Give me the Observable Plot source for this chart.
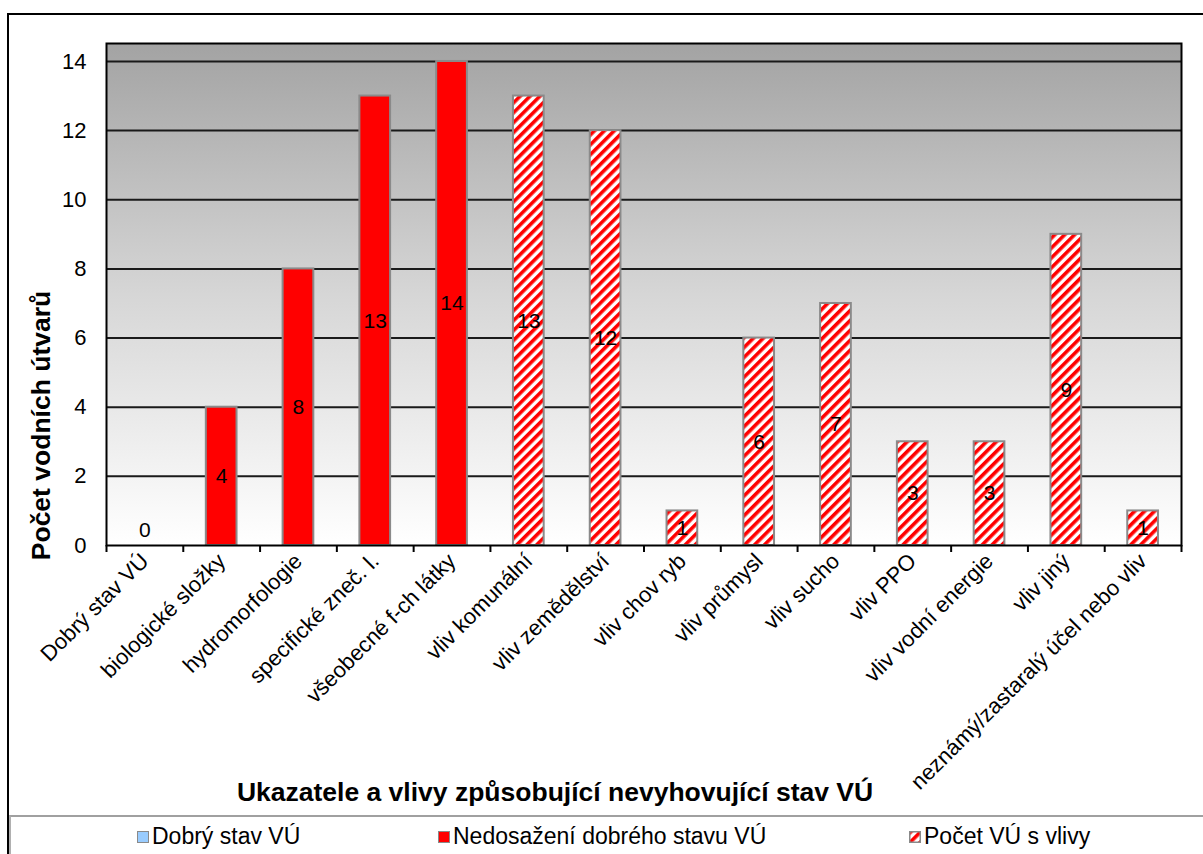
<!DOCTYPE html>
<html>
<head>
<meta charset="utf-8">
<script src="https://cdn.jsdelivr.net/npm/d3@7"></script>
<script src="https://cdn.jsdelivr.net/npm/@observablehq/plot@0.6"></script>
<style>
  html, body { margin: 0; padding: 0; background: #fff; overflow: hidden; }
  body { width: 1203px; height: 854px; position: relative; font-family: "Liberation Sans", Arial, sans-serif; }
  #frame { position: absolute; left: 7px; top: 13px; width: 1300px; height: 1000px; border: 2px solid #000; box-sizing: border-box; pointer-events: none; }
  #chart { position: absolute; left: 0; top: 0; }
  #legend { position: absolute; left: 9px; top: 815px; width: 1300px; height: 60px; border-top: 2px solid #a0a0a0; border-left: 2px solid #b0b0b0; box-sizing: border-box; }
  .item { position: absolute; top: 6px; font-size: 23px; color: #000; white-space: nowrap; display: flex; align-items: center; }
  .sw { display: inline-block; width: 12px; height: 12px; border: 1.5px solid #8a8a8a; margin-right: 3px; box-sizing: border-box; }
</style>
</head>
<body>
<svg width="0" height="0" style="position:absolute">
  <defs>
    <linearGradient id="bg" x1="0" y1="0" x2="0" y2="1">
      <stop offset="0" stop-color="#a3a3a3"/>
      <stop offset="0.5" stop-color="#d6d6d6"/>
      <stop offset="1" stop-color="#ffffff"/>
    </linearGradient>
    <pattern id="hatch" patternUnits="userSpaceOnUse" width="7" height="7" patternTransform="rotate(45)">
      <rect x="0" y="0" width="7" height="7" fill="#ffffff"/>
      <rect x="0" y="0" width="3.6" height="7" fill="#ff0000"/>
    </pattern>
  </defs>
</svg>
<div id="chart"></div>
<div id="frame"></div>
<div id="legend">
  <div class="item" style="left:126px"><span class="sw" style="background:#99ccff"></span>Dobrý stav VÚ</div>
  <div class="item" style="left:427px"><span class="sw" style="background:#ff0000"></span>Nedosažení dobrého stavu VÚ</div>
  <div class="item" style="left:898px"><svg width="12" height="12" style="margin-right:3px"><rect x="0.75" y="0.75" width="10.5" height="10.5" fill="url(#hatch)" stroke="#8a8a8a" stroke-width="1.5"/></svg>Počet VÚ s vlivy</div>
</div>
<script>
const categories = ["Dobrý stav VÚ", "biologické složky", "hydromorfologie", "specifické zneč. l.", "všeobecné f-ch látky", "vliv komunální", "vliv zemědělství", "vliv chov ryb", "vliv průmysl", "vliv sucho", "vliv PPO", "vliv vodní energie", "vliv jiný", "neznámý/zastaralý účel nebo vliv"];
const values = [0, 4, 8, 13, 14, 13, 12, 1, 6, 7, 3, 3, 9, 1];
const groups = ["good", "fail", "fail", "fail", "fail", "impact", "impact", "impact", "impact", "impact", "impact", "impact", "impact", "impact"];
const yTicks = [0, 2, 4, 6, 8, 10, 12, 14];
const gridValues = [2, 4, 6, 8, 10, 12, 14];
const yTitle = "Počet vodních útvarů";
const xTitle = "Ukazatele a vlivy způsobující nevyhovující stav VÚ";

const data = categories.map((c, i) => ({cat: c, v: values[i], g: groups[i]}));

const W = 1203, H = 815, ML = 106, MR = 22, MT = 43, MB = 270;
const step = (W - ML - MR) / categories.length;
const font = "Liberation Sans, Arial, sans-serif";

const plot = Plot.plot({
  width: W,
  height: H,
  marginLeft: ML,
  marginRight: MR,
  marginTop: MT,
  marginBottom: MB,
  style: {fontFamily: font, background: "transparent", overflow: "visible"},
  x: {type: "band", domain: categories, paddingInner: 0.6, paddingOuter: 0.3, round: false},
  y: {domain: [0, 14.52]},
  marks: [
    Plot.frame({fill: "url(#bg)"}),
    Plot.ruleY(gridValues, {stroke: "#1a1a1a", strokeWidth: 2}),
    Plot.barY(data.filter(d => d.g === "fail" && d.v > 0), {x: "cat", y: "v", fill: "#ff0000", stroke: "#8a8a8a", strokeWidth: 2}),
    Plot.barY(data.filter(d => d.g === "impact" && d.v > 0), {x: "cat", y: "v", fill: "url(#hatch)", stroke: "#8a8a8a", strokeWidth: 2}),
    Plot.barY(data.filter(d => d.g === "good" && d.v > 0), {x: "cat", y: "v", fill: "#99ccff", stroke: "#8a8a8a", strokeWidth: 2}),
    Plot.frame({stroke: "#000", strokeWidth: 2}),
    Plot.text(data, {x: "cat", y: d => d.v === 0 ? 0.45 : d.v / 2, text: d => String(d.v), fontSize: 21, fill: "#000"}),
    Plot.axisY({ticks: yTicks, tickSize: 0, tickPadding: 20, fontSize: 22, label: null, tickFormat: d => String(d)}),
    Plot.axisX({text: null, tickSize: 7, dx: -step / 2, stroke: "#000", strokeWidth: 2, label: null}),
    Plot.axisX({ticks: [categories[categories.length - 1]], text: null, tickSize: 7, dx: step / 2, stroke: "#000", strokeWidth: 2, label: null}),
    Plot.axisX({tickSize: 0, tickPadding: 12, tickRotate: -45, fontSize: 22, label: null}),
    Plot.text([yTitle], {frameAnchor: "left", textAnchor: "middle", dx: -65, dy: 131, rotate: -90, fontSize: 26.5, fontWeight: "bold", fill: "#000"}),
    Plot.text([xTitle], {frameAnchor: "bottom", dx: -89, dy: 255, fontSize: 26.5, fontWeight: "bold", fill: "#000"})
  ]
});
document.getElementById("chart").appendChild(plot);
</script>
</body>
</html>
